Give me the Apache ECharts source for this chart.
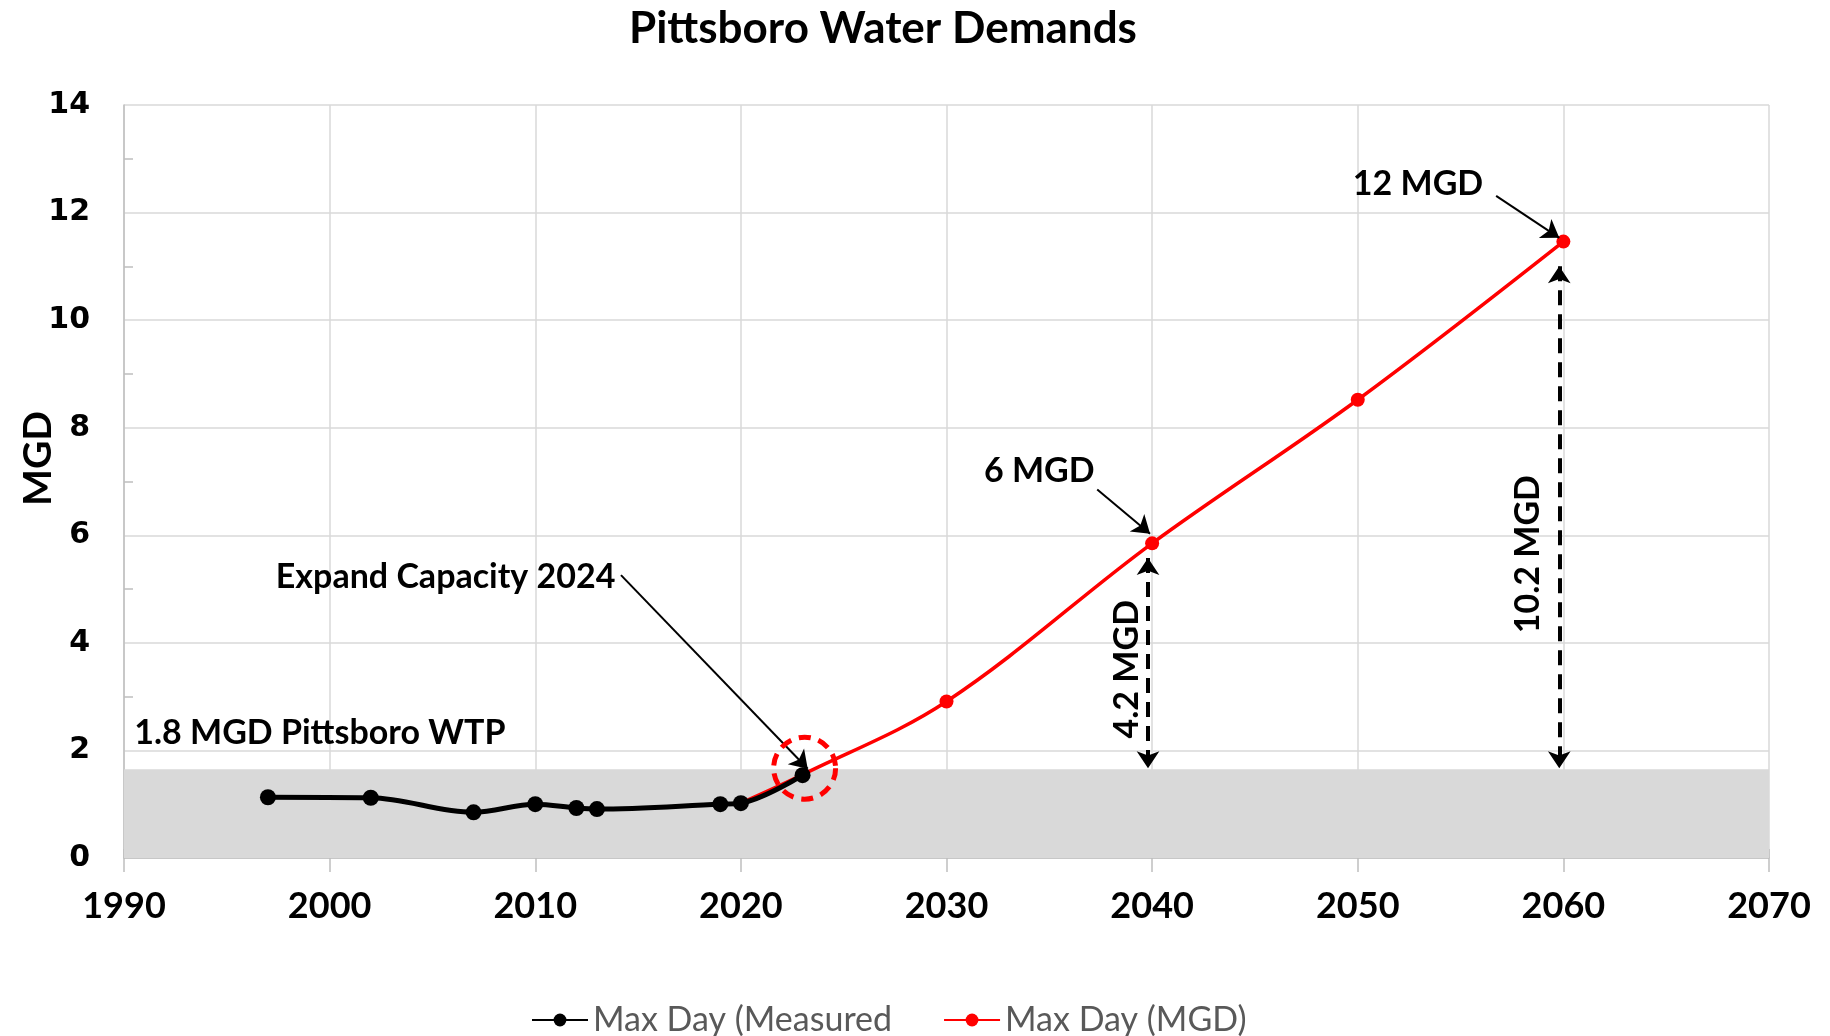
<!DOCTYPE html>
<html>
<head>
<meta charset="utf-8">
<script src="https://cdn.jsdelivr.net/npm/echarts@6/dist/echarts.min.js"></script>
<style>
html,body{margin:0;padding:0;background:#fff;}
#chart{width:1830px;height:1036px;}
</style>
</head>
<body>
<div id="chart"></div>
<script>
// ---- data ----
const measuredName = 'Max Day (Measured';
const measuredYears = [1997, 2002, 2007, 2010, 2012, 2013, 2019, 2020, 2023];
const measuredMGD   = [1.13, 1.12, 0.85, 1.00, 0.93, 0.91, 1.00, 1.02, 1.54];

const projectedName = 'Max Day (MGD)';
const projectedYears = [2020, 2023, 2030, 2040, 2050, 2060];
const projectedMGD   = [1.02, 1.55, 2.91, 5.85, 8.52, 11.46];

const xRange = [1990, 2070];   // x tick labels 1990..2070 step 10
const yRange = [0, 14];        // y tick labels 0..14 step 2
const plantBandTop = 1.65;     // shaded band (existing WTP)

const calloutTexts = ['Expand Capacity 2024', '6 MGD', '12 MGD', '1.8 MGD Pittsboro WTP'];
const calloutAnchors = [[2013.9, 5.22], [2037.2, 7.19], [2056.1, 12.53], [1990.5, 2.32]];
const calloutAligns = ['right', 'right', 'right', 'left'];
const calloutArrows = [
  [[2014.17, 5.26], [2023.25, 1.66]],
  [[2037.33, 6.85], [2039.9, 6.03]],
  [[2056.73, 12.31], [2059.8, 11.53]]
];
const gapTexts = ['4.2 MGD', '10.2 MGD'];
const gapTextAnchors = [[2038.8, 3.51], [2058.3, 5.65]];
const gapArrows = [
  [[2039.8, 5.58], [2039.8, 1.67]],
  [[2059.8, 11.0], [2059.8, 1.67]]
];
const highlightPoint = [2023.1, 1.67];

// ---- chart ----
const chart = echarts.init(document.getElementById('chart'), null, {renderer: 'canvas'});
const boldFont = 'Lato';
const axisGray = '#bfbfbf';
const gridGray = '#d9d9d9';

const option = {
  animation: false,
  backgroundColor: '#ffffff',
  title: {
    text: 'Pittsboro Water Demands',
    left: 624, top: 2,
    textStyle: {fontFamily: boldFont, fontWeight: 'bold', fontSize: 44, color: '#000'}
  },
  grid: {left: 124, right: 61, top: 105, bottom: 178, containLabel: false, outerBoundsMode: 'none'},
  legend: {
    data: [measuredName, projectedName],
    left: 526, top: 998,
    itemWidth: 56, itemHeight: 16, itemGap: 51,
    textStyle: {fontFamily: 'Lato', fontSize: 34, color: '#595959'}
  },
  xAxis: [{
    type: 'value', min: xRange[0], max: xRange[1], interval: 10, position: 'bottom',
    axisLine: {show: true, lineStyle: {color: axisGray, width: 1.5}},
    axisTick: {show: true, length: 14, lineStyle: {color: axisGray, width: 1.5}},
    splitLine: {show: true, lineStyle: {color: gridGray, width: 1.5}},
    axisLabel: {fontFamily: 'Lato', fontWeight: 'bold', fontSize: 36, color: '#000', margin: 30,
      formatter: v => String(v)}
  }, {
    type: 'value', min: xRange[0], max: xRange[1], interval: 2, position: 'bottom',
    axisLine: {show: false},
    axisTick: {show: true, inside: true, length: 9, lineStyle: {color: axisGray, width: 1.5}},
    splitLine: {show: false},
    axisLabel: {show: false}
  }],
  yAxis: {
    type: 'value', min: yRange[0], max: yRange[1], interval: 2,
    name: 'MGD', nameLocation: 'middle', nameRotate: 90, nameGap: 66, nameMoveOverlap: false,
    nameTextStyle: {fontFamily: boldFont, fontWeight: 'bold', fontSize: 39, color: '#000', padding: [0, 0, 0, 46]},
    axisLine: {show: true, lineStyle: {color: axisGray, width: 1.5}},
    axisTick: {show: false, inside: true},
    minorTick: {show: true, splitNumber: 2, length: 9, lineStyle: {color: axisGray, width: 1.5}},
    splitLine: {show: true, lineStyle: {color: gridGray, width: 1.5}},
    axisLabel: {fontFamily: 'DejaVu Sans', fontWeight: 'bold', fontSize: 30, color: '#000', margin: 34}
  },
  series: [
    {
      name: 'band', type: 'line', data: [], z: 1, silent: true,
      markArea: {silent: true, itemStyle: {color: gridGray},
        data: [[{xAxis: xRange[0], yAxis: 0}, {xAxis: xRange[1], yAxis: plantBandTop}]]}
    },
    {
      name: projectedName, type: 'line', z: 2,
      data: projectedYears.map((y, i) => [y, projectedMGD[i]]),
      smooth: 0.35, symbol: 'circle', symbolSize: 14, showSymbol: true,
      itemStyle: {color: '#ff0000'}, lineStyle: {color: '#ff0000', width: 3.5},
      markPoint: {
        silent: true, symbol: 'circle', symbolSize: 62,
        itemStyle: {color: 'rgba(0,0,0,0)', borderColor: '#ff0000', borderWidth: 5, borderType: [12, 8]},
        label: {show: false},
        data: [{coord: highlightPoint}]
      }
    },
    {
      name: measuredName, type: 'line', z: 3,
      data: measuredYears.map((y, i) => [y, measuredMGD[i]]),
      smooth: 0.35, symbol: 'circle', symbolSize: 16, showSymbol: true,
      itemStyle: {color: '#000'}, lineStyle: {color: '#000', width: 5}
    },
    {
      name: 'callouts', type: 'line', data: [], z: 5, silent: true,
      markLine: {
        silent: true, symbol: ['none', 'arrow'], symbolSize: 17,
        lineStyle: {color: '#000', width: 2, type: 'solid'},
        label: {show: false},
        data: calloutArrows.map(a => [{coord: a[0]}, {coord: a[1]}])
      }
    },
    {
      name: 'gaps', type: 'line', data: [], z: 5, silent: true,
      markLine: {
        silent: true, symbol: ['arrow', 'arrow'], symbolSize: 17,
        lineStyle: {color: '#000', width: 4, type: [15, 9]},
        label: {show: false},
        data: gapArrows.map(a => [{coord: a[0]}, {coord: a[1]}])
      }
    }
  ]
};
chart.setOption(option);

// annotation texts placed through the chart's own coordinate conversion
const g = [];
calloutTexts.forEach((t, i) => {
  const p = chart.convertToPixel({gridIndex: 0}, calloutAnchors[i]);
  g.push({type: 'text', x: p[0], y: p[1], z: 100,
    style: {text: t, fill: '#000', font: 'bold 34px Lato', textAlign: calloutAligns[i], textVerticalAlign: 'middle'}});
});
gapTexts.forEach((t, i) => {
  const p = chart.convertToPixel({gridIndex: 0}, gapTextAnchors[i]);
  g.push({type: 'text', x: p[0], y: p[1], rotation: Math.PI / 2, z: 100,
    style: {text: t, fill: '#000', font: 'bold 34px Lato', textAlign: 'center', textVerticalAlign: 'middle'}});
});
chart.setOption({graphic: g});
</script>
</body>
</html>
